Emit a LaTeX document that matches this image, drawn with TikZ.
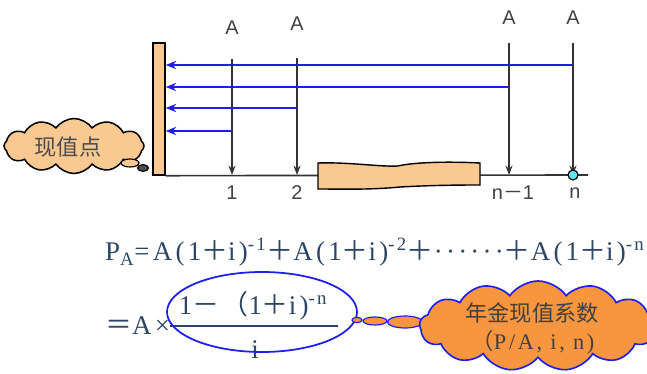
\documentclass[tikz,border=0pt]{standalone}
\usepackage{fontspec}
\setmainfont{Liberation Serif}
\newfontfamily\cjk{Noto Sans CJK SC}
\newfontfamily\lblfont{Liberation Sans}
\newfontfamily\formfont[LetterSpace=12]{Liberation Serif}
\usetikzlibrary{arrows.meta,shapes.symbols,shapes.geometric}

\definecolor{peach}{RGB}{250,200,145}
\definecolor{deeporange}{RGB}{247,150,62}
\definecolor{arrblue}{RGB}{30,30,235}
\definecolor{formcol}{RGB}{45,70,100}
\definecolor{dotcyan}{RGB}{95,230,240}

\tikzset{
	downarrow/.style={draw=black!80, line width=1.2pt, -{Stealth[length=8pt,width=6pt]}},
	backarrow/.style={draw=arrblue, line width=1.4pt, -{Stealth[length=9pt,width=7pt]}},
	tlabel/.style={font=\lblfont\fontsize{17}{17}\selectfont, text=black!75},
	formula/.style={font=\formfont\fontsize{23}{26}\selectfont, text=formcol},
	bubble/.style={ellipse, draw=arrblue, fill=deeporange, line width=1pt, inner sep=0pt}
}

\begin{document}
\begin{tikzpicture}[x=0.03cm, y=-0.03cm, every node/.style={inner sep=0pt}]
	\useasboundingbox (0,0) rectangle (647,374);

	% present-value wall and time axis
	\node[draw, fill=peach, line width=1.2pt, minimum width=0.36cm, minimum height=3.96cm] (wall) at (159,109) {};
	\coordinate (axisend) at (588,175);
	\draw[line width=1.4pt, black!80] (wall.south east) -- (axisend);

	% payments A and discounting arrows
	\foreach \n/\x/\ya/\sh/\yb in {1/232/28/20pt/131, 2/297/24/23pt/108, 3/509/18/15pt/87, 4/573/18/15pt/65} {
		\node[tlabel] (a\n) at (\x,\ya) {A};
		\coordinate (t\n) at (\x,175);
		\coordinate (b\n) at (\x,\yb);
		\draw[downarrow, shorten <=\sh] (a\n) -- (t\n);
		\draw[backarrow] (b\n) -- (wall.east |- b\n);
	}
	\node[tlabel] (l1) at (232,193) {1};
	\node[tlabel] (l2) at (297,193) {2};
	\node[tlabel] (l3) at (513,193) {n{\cjk －}1};
	\node[tlabel] (l4) at (575,193) {n};

	% broken tape over the axis
	\draw[fill=peach, line width=1.2pt] (318,163) .. controls (350,162) and (380,167) .. (398,166)
		.. controls (410,163) and (440,161) .. (480,163) -- (480,185)
		.. controls (440,185) and (420,186) .. (400,187) .. controls (370,190) and (340,189) .. (318,189) -- cycle;
	\node[circle, draw, fill=dotcyan, line width=1pt, minimum size=0.3cm] (dot) at (t4) {};

	% thought cloud
	\node[cloud, cloud puffs=12, cloud puff arc=110, draw, fill=peach, line width=1.3pt,
		minimum width=4.2cm, minimum height=1.65cm] (now) at (74,146) {};
	\node[font=\cjk\fontsize{19}{19}\selectfont, text=black!70] (nowtext) at (68,147) {现值点};
	\node[ellipse, draw, fill=peach, line width=1pt, minimum width=0.54cm, minimum height=0.24cm] (nb1) at (130,163) {};
	\node[ellipse, draw, fill=black!70, line width=1pt, minimum width=0.33cm, minimum height=0.2cm] (nb2) at (143,168) {};

	% formulas
	\node[formula, anchor=west] (line1) at (105,252)
		{P\textsubscript{A}=A(1{\cjk ＋}i)\textsuperscript{-1}{\cjk ＋}A(1{\cjk ＋}i)\textsuperscript{-2}{\cjk ＋}······{\cjk ＋}A(1{\cjk ＋}i)\textsuperscript{-n}};
	\node[formula, anchor=west] (line2) at (105,326) {{\cjk ＝}A×};
	\node[formula] (num) at (253,306) {1{\cjk －}\hspace{2pt}{\cjk （}1{\cjk ＋}i)\textsuperscript{-n}};
	\node[formula] (den) at (255,350) {i};
	\draw[formcol, line width=1pt] (170,326) -- (338,326);

	% ring and coefficient cloud
	\node[ellipse, draw=arrblue, line width=1.5pt, minimum width=5.7cm, minimum height=2.4cm] (ring) at (262,312) {};
	\node[bubble, minimum width=0.3cm, minimum height=0.16cm] (cb1) at (357,320) {};
	\node[bubble, minimum width=0.72cm, minimum height=0.24cm] (cb2) at (375,321) {};
	\node[bubble, minimum width=1.05cm, minimum height=0.36cm] (cb3) at (405,322) {};
	\node[cloud, cloud puffs=13, cloud puff arc=110, draw=arrblue, fill=deeporange, line width=1.4pt,
		minimum width=7.1cm, minimum height=2.7cm] (coef) at (538,326) {};
	\node[font=\cjk\fontsize{19}{19}\selectfont, text=black!75] (coeftext) at (532,313) {年金现值系数};
	\node[font=\formfont\fontsize{19}{19}\selectfont, text=black!75] (coefarg) at (533,342) {{\cjk （}P/A,\ i,\ n)};
\end{tikzpicture}
\end{document}
